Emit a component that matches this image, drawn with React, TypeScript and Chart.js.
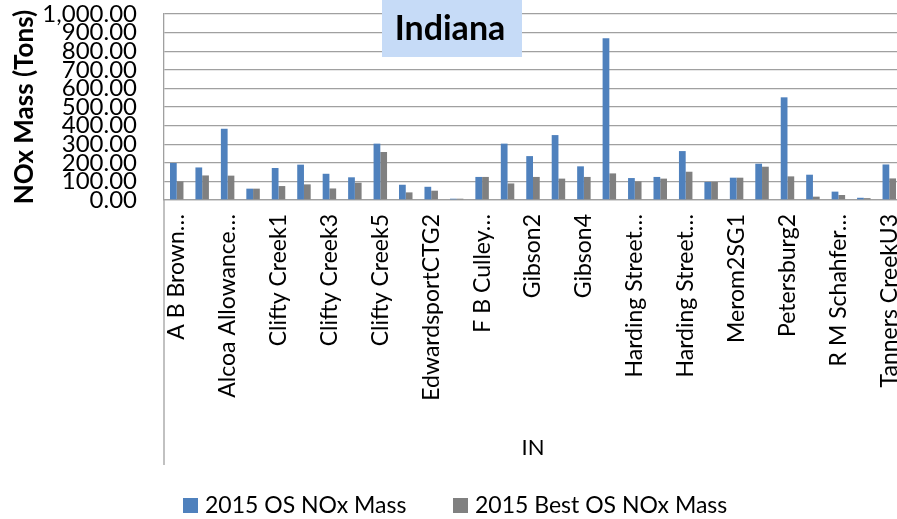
import React, { useEffect, useRef } from "react";
import { Chart, registerables } from "chart.js";

Chart.register(...registerables);

const categories: string[] = [
  "A B Brown…", "A B Brown2", "Alcoa Allowance…", "Alcoa Allowance4",
  "Clifty Creek1", "Clifty Creek2", "Clifty Creek3", "Clifty Creek4",
  "Clifty Creek5", "Clifty Creek6", "EdwardsportCTG2", "EdwardsportST1",
  "F B Culley…", "Gibson1", "Gibson2", "Gibson3", "Gibson4", "Gibson5",
  "Harding Street…", "Harding Street…", "Harding Street…", "Merom1SG1",
  "Merom2SG1", "Petersburg1", "Petersburg2", "Petersburg3",
  "R M Schahfer…", "R M Schahfer…", "Tanners CreekU3",
];

const osNoxMass: number[] = [
  199, 175, 383, 61, 172, 190, 141, 122, 303, 82, 71, 7, 124, 303, 236,
  349, 181, 869, 118, 124, 263, 97, 120, 195, 552, 136, 45, 12, 191,
];

const bestOsNoxMass: number[] = [
  100, 132, 131, 61, 75, 84, 62, 93, 258, 41, 50, 7, 124, 89, 124,
  115, 124, 143, 100, 115, 152, 97, 120, 179, 127, 18, 27, 10, 116,
];

const seriesNames: string[] = ["2015 OS NOx Mass", "2015 Best OS NOx Mass"];
const seriesColors: string[] = ["#4f81bd", "#808080"];
const chartTitle = "Indiana";
const yAxisTitle = "NOx Mass (Tons)";
const xAxisTitle = "IN";

const FONT = "Lato";
const GRID = "#a0a0a0";

const decorPlugin = {
  id: "decor",
  afterDraw(chart: any) {
    const ctx = chart.ctx as CanvasRenderingContext2D;
    const area = chart.chartArea;
    ctx.save();
    // extended category axis line (multi-level axis border)
    ctx.strokeStyle = GRID;
    ctx.lineWidth = 1.3;
    ctx.beginPath();
    ctx.moveTo(area.left, area.bottom);
    ctx.lineTo(area.left, 465);
    ctx.stroke();

    // title box
    ctx.fillStyle = "#c6dbf7";
    ctx.fillRect(382, 0, 140, 57);
    ctx.fillStyle = "#000";
    ctx.font = `bold 34px ${FONT}`;
    ctx.textAlign = "center";
    ctx.textBaseline = "middle";
    ctx.fillText(chartTitle, 450, 29);

    // legend
    const items = chart.data.datasets.map((d: any) => ({ label: d.label, color: d.backgroundColor }));
    const xs = [183, 453];
    ctx.font = `23px ${FONT}`;
    ctx.textAlign = "left";
    items.forEach((it: any, i: number) => {
      ctx.fillStyle = it.color;
      ctx.fillRect(xs[i], 498, 15, 15);
      ctx.fillStyle = "#000";
      ctx.fillText(it.label, xs[i] + 22, 506);
    });
    ctx.restore();
  },
};

export default function App() {
  const ref = useRef<HTMLCanvasElement | null>(null);

  useEffect(() => {
    if (!ref.current) return;
    const chart = new Chart(ref.current, {
      type: "bar",
      data: {
        labels: categories,
        datasets: [
          { label: seriesNames[0], data: osNoxMass, backgroundColor: seriesColors[0] },
          { label: seriesNames[1], data: bestOsNoxMass, backgroundColor: seriesColors[1] },
        ],
      },
      options: {
        responsive: false,
        animation: false,
        layout: { padding: { left: 0, right: 0, top: 14, bottom: 54 } },
        datasets: { bar: { categoryPercentage: 0.53, barPercentage: 1 } },
        plugins: {
          legend: { display: false },
          tooltip: { enabled: false },
          title: { display: false },
        },
        scales: {
          x: {
            grid: { display: false, drawTicks: false },
            border: { display: true, color: GRID, width: 1.3 },
            ticks: {
              autoSkip: false,
              minRotation: 90,
              maxRotation: 90,
              padding: 14,
              color: "#000",
              font: { family: FONT, size: 23 },
              callback: (_v: any, i: number) => (i % 2 === 0 ? categories[i] : ""),
            },
            title: {
              display: true,
              text: xAxisTitle,
              color: "#000",
              font: { family: FONT, size: 22 },
              padding: { top: 0, bottom: 4 },
            },
            afterFit: (s: any) => {
              s.height = 265;
              s.paddingLeft = 0;
              s.paddingRight = 0;
            },
          },
          y: {
            min: 0,
            max: 1000,
            grid: { color: GRID, lineWidth: 1.3, drawTicks: false },
            border: { display: true, color: GRID, width: 1.3 },
            ticks: {
              stepSize: 100,
              autoSkip: false,
              padding: 27,
              color: "#000",
              font: { family: FONT, size: 24 },
              callback: (v: any) =>
                Number(v).toLocaleString("en-US", { minimumFractionDigits: 2, maximumFractionDigits: 2 }),
            },
            title: {
              display: true,
              text: yAxisTitle,
              color: "#000",
              font: { family: FONT, size: 26, weight: "bold" },
              padding: { top: 9, bottom: 0 },
            },
            afterFit: (s: any) => {
              s.width = 164;
              s.paddingTop = 0;
              s.paddingBottom = 0;
            },
          },
        },
      },
      plugins: [decorPlugin],
    });
    return () => chart.destroy();
  }, []);

  return (
    <div style={{ position: "fixed", left: 0, top: 0, width: 897, height: 519, overflow: "hidden", background: "#fff" }}>
      <canvas ref={ref} width={902} height={519} style={{ display: "block" }} />
    </div>
  );
}
